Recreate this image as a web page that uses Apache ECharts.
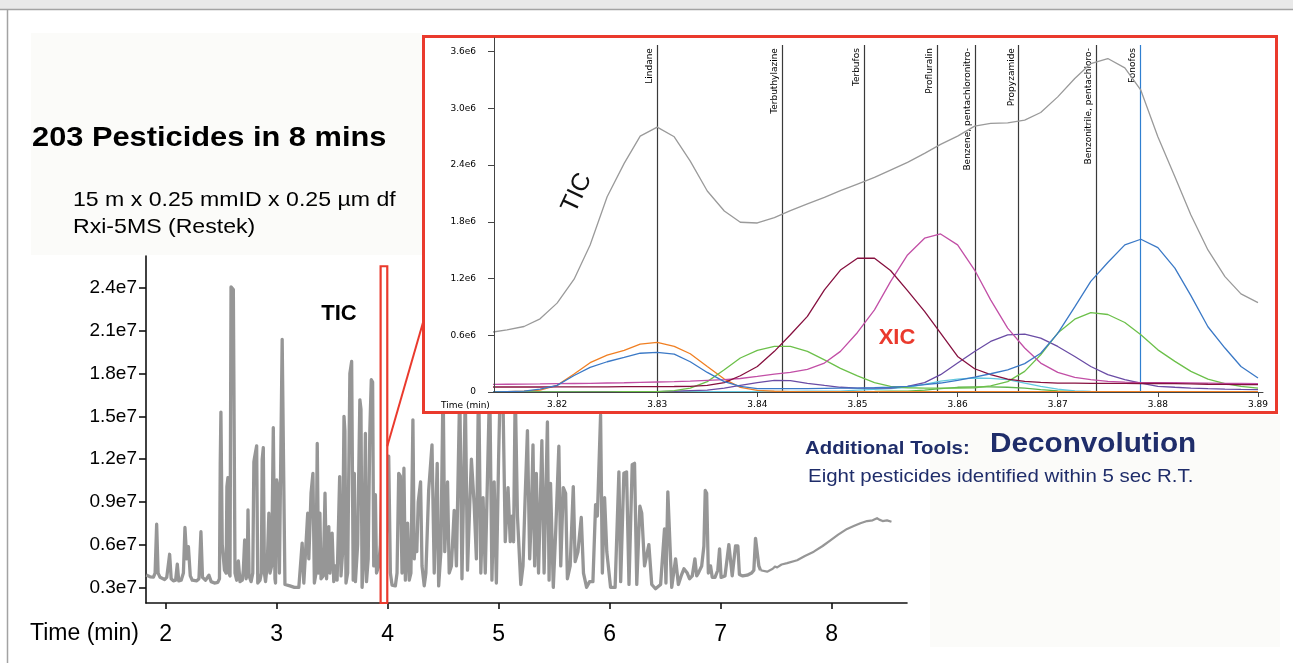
<!DOCTYPE html>
<html>
<head>
<meta charset="utf-8">
<script src="https://cdn.jsdelivr.net/npm/echarts@6/dist/echarts.min.js"></script>
<style>
html, body { margin: 0; padding: 0; background: #fff; }
#c { width: 1293px; height: 663px; }
</style>
</head>
<body>
<div id="c"></div>
<script>
// ---- Full run: total ion chromatogram, [time (min), intensity (x1e7)] ----
const runTrace = [
  [1.825,0.386],[1.86,0.374],[1.89,0.372],[1.905,0.40],[1.919,0.743],[1.932,0.40],[1.95,0.37],[1.99,0.355],
  [2.01,0.37],[2.036,0.532],[2.05,0.36],[2.07,0.345],[2.09,0.35],[2.105,0.462],[2.118,0.345],[2.14,0.35],
  [2.16,0.40],[2.174,0.72],[2.19,0.50],[2.205,0.585],[2.222,0.38],[2.24,0.35],[2.28,0.345],[2.30,0.36],
  [2.318,0.69],[2.332,0.37],[2.36,0.35],[2.375,0.36],[2.39,0.385],[2.41,0.34],[2.44,0.33],[2.47,0.335],
  [2.485,0.36],[2.492,1.17],[2.498,1.53],[2.51,0.60],[2.53,0.42],[2.545,0.40],[2.552,1.007],[2.561,1.07],
  [2.57,0.40],[2.58,0.38],[2.589,2.408],[2.61,2.39],[2.625,0.40],[2.64,0.35],[2.655,0.485],[2.67,0.34],
  [2.69,0.35],[2.70,0.42],[2.712,0.632],[2.725,0.36],[2.735,0.40],[2.742,0.843],[2.752,0.38],[2.77,0.34],
  [2.785,0.40],[2.795,1.18],[2.80,1.206],[2.82,1.293],[2.83,0.33],[2.85,0.35],[2.862,0.40],[2.87,1.20],
  [2.88,1.28],[2.89,0.40],[2.90,0.34],[2.915,0.45],[2.93,0.82],[2.94,0.40],[2.955,0.45],[2.97,1.42],
  [2.985,0.36],[2.99,0.33],[3.0,1.054],[3.012,1.00],[3.025,0.40],[3.038,0.40],[3.05,2.04],[3.062,1.20],
  [3.075,0.32],[3.09,0.31],[3.12,0.31],[3.16,0.30],[3.20,0.30],[3.216,0.30],[3.23,0.61],[3.245,0.33],
  [3.26,0.34],[3.28,0.82],[3.29,0.50],[3.31,0.96],[3.327,1.10],[3.34,0.33],[3.355,0.40],[3.366,1.31],
  [3.378,0.40],[3.39,0.82],[3.40,0.36],[3.42,0.38],[3.436,0.96],[3.45,0.36],[3.47,0.726],[3.48,0.40],
  [3.50,0.68],[3.515,0.34],[3.53,0.45],[3.545,0.35],[3.568,1.077],[3.58,0.38],[3.595,0.55],[3.607,1.50],
  [3.615,1.40],[3.625,0.33],[3.64,0.40],[3.66,1.80],[3.676,1.885],[3.69,0.35],[3.70,1.10],[3.71,0.34],
  [3.73,0.60],[3.75,1.616],[3.76,1.55],[3.77,0.30],[3.785,0.50],[3.80,1.38],[3.81,0.34],[3.825,0.50],
  [3.84,1.405],[3.853,1.757],[3.865,1.74],[3.875,0.45],[3.89,0.95],[3.90,0.40],[3.92,0.45],[3.935,0.60],
  [3.96,1.57],[3.975,0.40],[3.99,0.70],[4.01,1.22],[4.025,0.40],[4.04,0.316],[4.07,0.31],[4.085,0.40],
  [4.10,1.10],[4.115,1.08],[4.13,0.40],[4.147,1.136],[4.16,0.35],[4.18,0.75],[4.195,0.35],[4.21,0.40],
  [4.228,1.475],[4.24,0.50],[4.25,0.65],[4.263,0.55],[4.276,0.90],[4.297,1.04],[4.31,0.45],[4.33,0.31],
  [4.345,0.40],[4.37,0.98],[4.40,1.30],[4.42,0.40],[4.447,1.17],[4.46,0.31],[4.48,0.55],[4.50,1.75],
  [4.515,0.55],[4.54,1.04],[4.555,0.40],[4.575,0.45],[4.60,0.84],[4.62,0.45],[4.65,1.70],[4.67,0.36],
  [4.70,1.65],[4.72,0.42],[4.74,0.88],[4.755,1.20],[4.78,0.88],[4.80,0.50],[4.82,1.80],[4.84,0.40],
  [4.86,0.93],[4.88,0.40],[4.92,1.75],[4.94,0.35],[4.96,1.04],[4.98,0.33],[5.00,1.20],[5.02,1.90],
  [5.04,1.60],[5.06,0.62],[5.085,1.00],[5.105,0.62],[5.12,0.80],[5.135,0.62],[5.15,1.70],[5.17,0.80],
  [5.20,0.32],[5.22,0.45],[5.24,0.95],[5.26,1.40],[5.28,0.50],[5.295,0.80],[5.31,1.30],[5.325,0.45],
  [5.34,1.10],[5.36,0.40],[5.39,1.33],[5.41,0.40],[5.44,1.46],[5.455,0.35],[5.468,1.03],[5.493,0.30],
  [5.515,0.70],[5.543,1.29],[5.56,0.45],[5.583,1.00],[5.604,0.96],[5.62,0.36],[5.645,0.45],[5.673,1.007],
  [5.69,0.48],[5.715,0.55],[5.745,0.79],[5.765,0.40],[5.793,0.30],[5.82,0.34],[5.85,0.34],[5.874,0.88],
  [5.89,0.80],[5.919,1.51],[5.935,0.40],[5.955,0.93],[5.975,0.55],[6.009,0.30],[6.05,0.30],[6.084,1.11],
  [6.10,0.34],[6.129,1.10],[6.153,1.11],[6.175,0.32],[6.204,1.16],[6.225,1.17],[6.245,0.32],[6.273,0.87],
  [6.29,0.82],[6.315,0.45],[6.354,0.60],[6.38,0.32],[6.414,0.29],[6.46,0.32],[6.495,0.71],[6.508,0.33],
  [6.525,0.97],[6.543,0.96],[6.56,0.30],[6.595,0.50],[6.62,0.32],[6.645,0.38],[6.67,0.43],[6.70,0.40],
  [6.72,0.36],[6.745,0.38],[6.769,0.50],[6.785,0.38],[6.80,0.40],[6.83,0.45],[6.85,0.59],[6.862,0.98],
  [6.875,0.96],[6.89,0.40],[6.91,0.45],[6.925,0.37],[6.95,0.37],[6.975,0.42],[6.991,0.57],[7.005,0.37],
  [7.04,0.38],[7.075,0.60],[7.09,0.59],[7.105,0.38],[7.135,0.59],[7.156,0.59],[7.17,0.39],[7.20,0.38],
  [7.24,0.385],[7.28,0.40],[7.30,0.42],[7.315,0.644],[7.33,0.655],[7.345,0.45],[7.36,0.42],[7.42,0.41],
  [7.47,0.43],[7.49,0.445],[7.51,0.44],[7.55,0.46],[7.60,0.47],[7.69,0.49],[7.76,0.52],[7.84,0.55],
  [7.92,0.59],[7.99,0.63],[8.06,0.67],[8.14,0.71],[8.20,0.73],[8.26,0.75],[8.32,0.765],[8.37,0.77],
  [8.41,0.785],[8.43,0.775],[8.46,0.765],[8.50,0.77],[8.54,0.76]
];
const runTimeTicks = [2, 3, 4, 5, 6, 7, 8];
const runIntensityTicks = [0.3, 0.6, 0.9, 1.2, 1.5, 1.8, 2.1, 2.4];
// end of the elution window; the column bleed tail after it is drawn thinner
const elutionEnd = 7.36;

// ---- Zoomed window: scan times (min) and traces (x1e6) ----
const scanTime = [
  3.8133, 3.8150, 3.8167, 3.8183, 3.8200, 3.8217, 3.8233, 3.8250, 3.8267, 3.8283,
  3.8300, 3.8317, 3.8333, 3.8350, 3.8367, 3.8383, 3.8400, 3.8417, 3.8433, 3.8450,
  3.8467, 3.8483, 3.8500, 3.8517, 3.8533, 3.8550, 3.8567, 3.8583, 3.8600, 3.8617,
  3.8633, 3.8650, 3.8667, 3.8683, 3.8700, 3.8717, 3.8733, 3.8750, 3.8767, 3.8783,
  3.8800, 3.8817, 3.8833, 3.8850, 3.8867, 3.8883, 3.8900
];
const ticWindow = [
  0.63, 0.658, 0.693, 0.774, 0.94, 1.193, 1.556, 2.066, 2.419, 2.707,
  2.802, 2.70, 2.443, 2.126, 1.915, 1.796, 1.788, 1.844, 1.918, 1.99,
  2.06, 2.13, 2.20, 2.27, 2.348, 2.43, 2.524, 2.62, 2.707, 2.813,
  2.841, 2.848, 2.876, 2.957, 3.122, 3.317, 3.475, 3.528, 3.429, 3.193,
  2.70, 2.277, 1.873, 1.503, 1.221, 1.038, 0.946
];
const xicOrange = [
  0.0, 0.003, 0.008, 0.02, 0.07, 0.19, 0.31, 0.39, 0.44, 0.507,
  0.524, 0.482, 0.405, 0.27, 0.137, 0.049, 0.018, 0.008, 0.005, 0.004,
  0.004, 0.004, 0.004, 0.004, 0.004, 0.004, 0.004, 0.004, 0.004, 0.004,
  0.004, 0.004, 0.004, 0.004, 0.004, 0.004, 0.004, 0.004, 0.004, 0.004,
  0.004, 0.004, 0.004, 0.004, 0.004, 0.004, 0.004
];
const xicBlue = [
  0.0, 0.005, 0.01, 0.03, 0.07, 0.175, 0.26, 0.32, 0.366, 0.41,
  0.42, 0.40, 0.32, 0.207, 0.11, 0.06, 0.035, 0.035, 0.035, 0.035,
  0.038, 0.04, 0.042, 0.045, 0.05, 0.06, 0.077, 0.095, 0.123, 0.158,
  0.193, 0.235, 0.30, 0.41, 0.62, 0.90, 1.17, 1.37, 1.556, 1.616,
  1.527, 1.31, 1.02, 0.69, 0.465, 0.27, 0.148
];
const xicGreen = [
  0.0, 0.0, 0.0, 0.0, 0.0, 0.0, 0.002, 0.002, 0.003, 0.004,
  0.005, 0.015, 0.04, 0.11, 0.236, 0.36, 0.44, 0.482, 0.482, 0.43,
  0.34, 0.25, 0.17, 0.10, 0.06, 0.045, 0.04, 0.04, 0.04, 0.045,
  0.065, 0.11, 0.218, 0.394, 0.623, 0.77, 0.84, 0.82, 0.735, 0.605,
  0.446, 0.324, 0.218, 0.137, 0.088, 0.06, 0.04
];
const xicMaroon = [
  0.053, 0.053, 0.053, 0.053, 0.054, 0.054, 0.055, 0.055, 0.056, 0.056,
  0.057, 0.058, 0.06, 0.07, 0.10, 0.172, 0.27, 0.43, 0.605, 0.80,
  1.08, 1.29, 1.415, 1.415, 1.285, 1.073, 0.852, 0.624, 0.376, 0.246,
  0.183, 0.137, 0.112, 0.101, 0.094, 0.093, 0.092, 0.092, 0.091, 0.09,
  0.09, 0.088, 0.085, 0.082, 0.08, 0.078, 0.077
];
const xicMagenta = [
  0.081, 0.082, 0.083, 0.085, 0.088, 0.09, 0.092, 0.095, 0.098, 0.102,
  0.106, 0.11, 0.115, 0.123, 0.13, 0.143, 0.165, 0.19, 0.207, 0.24,
  0.306, 0.43, 0.63, 0.869, 1.168, 1.45, 1.627, 1.672, 1.556, 1.29,
  0.975, 0.676, 0.465, 0.306, 0.207, 0.154, 0.13, 0.112, 0.105, 0.10,
  0.10, 0.098, 0.096, 0.094, 0.092, 0.09, 0.088
];
const xicPurple = [
  0.0, 0.0, 0.0, 0.0, 0.0, 0.002, 0.003, 0.004, 0.005, 0.005,
  0.005, 0.008, 0.015, 0.02, 0.04, 0.07, 0.10, 0.123, 0.12, 0.092,
  0.07, 0.05, 0.042, 0.042, 0.042, 0.06, 0.10, 0.183, 0.306, 0.429,
  0.535, 0.605, 0.612, 0.57, 0.482, 0.376, 0.27, 0.183, 0.13, 0.095,
  0.06, 0.05, 0.042, 0.035, 0.03, 0.027, 0.025
];
const xicCyan = [
  0.0, 0.0, 0.0, 0.0, 0.0, 0.0, 0.0, 0.0, 0.0, 0.0,
  0.0, 0.0, 0.002, 0.003, 0.004, 0.005, 0.005, 0.006, 0.007, 0.008,
  0.009, 0.01, 0.02, 0.028, 0.035, 0.05, 0.08, 0.115, 0.137, 0.148,
  0.145, 0.13, 0.095, 0.06, 0.03, 0.012, 0.006, 0.004, 0.004, 0.004,
  0.004, 0.004, 0.004, 0.004, 0.004, 0.004, 0.004
];
const xicLime = [
  0.003, 0.003, 0.003, 0.003, 0.003, 0.003, 0.003, 0.003, 0.003, 0.003,
  0.003, 0.003, 0.003, 0.003, 0.003, 0.003, 0.004, 0.004, 0.004, 0.004,
  0.004, 0.004, 0.005, 0.006, 0.008, 0.01, 0.02, 0.035, 0.05, 0.055,
  0.055, 0.05, 0.04, 0.025, 0.012, 0.006, 0.004, 0.004, 0.004, 0.004,
  0.004, 0.004, 0.004, 0.004, 0.004, 0.004, 0.004
];
const windowTimeTicks = [3.82, 3.83, 3.84, 3.85, 3.86, 3.87, 3.88, 3.89];
const windowIntensityTicks = [0, 0.6, 1.2, 1.8, 2.4, 3.0, 3.6];

// Identified compounds and their retention times (min)
const compounds = ['Lindane', 'Terbuthylazine', 'Terbufos', 'Profluralin',
  'Benzene, pentachloronitro-', 'Propyzamide', 'Benzonitrile, pentachloro-', 'Fonofos'];
const compoundTime = [3.8300, 3.8425, 3.8507, 3.8580, 3.8618, 3.8661, 3.8738, 3.8782];

// ---- styling ----
const RED = '#ea3a2d';
const NAVY = '#1f2d6a';
const traceStyles = [
  { values: xicLime,    color: '#5fb54a' },
  { values: xicCyan,    color: '#62c8df' },
  { values: xicOrange,  color: '#f07f22' },
  { values: xicPurple,  color: '#6a4ca5' },
  { values: xicGreen,   color: '#6cc04a' },
  { values: xicMagenta, color: '#c24fa6' },
  { values: xicMaroon,  color: '#86103f' },
  { values: xicBlue,    color: '#3b79c6' }
];

const chart = echarts.init(document.getElementById('c'));

const tickFont = '"DejaVu Sans", sans-serif';
const markTop = 3.67;

const windowSeries = traceStyles.map(t => ({
  type: 'line', xAxisIndex: 1, yAxisIndex: 1, z: 5,
  showSymbol: false, silent: true,
  lineStyle: { color: t.color, width: 1.3 },
  data: scanTime.map((x, i) => [x, t.values[i]])
}));

windowSeries.unshift({
  type: 'line', xAxisIndex: 1, yAxisIndex: 1, z: 5,
  showSymbol: false, silent: true,
  lineStyle: { color: '#9a9a9a', width: 1.3 },
  data: scanTime.map((x, i) => [x, ticWindow[i]]),
  markLine: {
    silent: true, symbol: ['none', 'none'], animation: false,
    lineStyle: { color: '#3a3a3a', width: 1.2, type: 'solid' },
    label: {
      show: true, position: 'insideEndTop', distance: 3,
      formatter: p => p.name, color: '#000', fontSize: 9, fontFamily: tickFont
    },
    emphasis: { disabled: true },
    data: compounds.map((n, i) => [
      { name: n, coord: [compoundTime[i], 0],
        lineStyle: n === 'Fonofos' ? { color: '#2f7fd0' } : undefined },
      { coord: [compoundTime[i], markTop] }
    ])
  }
});

// the run trace is split where elution ends so the bleed tail can be thinner
const splitAt = runTrace.findIndex(p => p[0] >= elutionEnd);
const elutionPart = runTrace.slice(0, splitAt + 1);
const bleedPart = runTrace.slice(splitAt);

chart.setOption({
  animation: false,
  backgroundColor: '#ffffff',
  grid: [
    { left: 146, top: 256, right: 386, bottom: 60 },
    { left: 494, top: 38, right: 30, bottom: 271, z: 6 }
  ],
  xAxis: [
    {
      type: 'value', gridIndex: 0, min: 1.823, max: 8.68,
      axisLine: { show: true, lineStyle: { color: '#111', width: 1.6 } },
      axisTick: { show: true, length: 6, customValues: runTimeTicks, lineStyle: { color: '#111', width: 1.6 } },
      axisLabel: { customValues: runTimeTicks, fontSize: 23, color: '#000', margin: 20,
        fontFamily: '"Liberation Sans", Arial, sans-serif', formatter: v => String(v) },
      splitLine: { show: false }
    },
    {
      type: 'value', gridIndex: 1, min: 3.8137, max: 3.8905, z: 6,
      axisLine: { show: true, lineStyle: { color: '#444', width: 1 } },
      axisTick: { show: true, length: 5, customValues: windowTimeTicks, lineStyle: { color: '#444' } },
      axisLabel: { customValues: windowTimeTicks, fontSize: 9, color: '#000', margin: 8,
        fontFamily: tickFont, formatter: v => v.toFixed(2) },
      splitLine: { show: false }
    }
  ],
  yAxis: [
    {
      type: 'value', gridIndex: 0, min: 0.19, max: 2.625,
      axisLine: { show: true, lineStyle: { color: '#111', width: 1.6 } },
      axisTick: { show: true, length: 7, customValues: runIntensityTicks, lineStyle: { color: '#111', width: 1.6 } },
      axisLabel: { customValues: runIntensityTicks, fontSize: 19, color: '#000', margin: 9,
        fontFamily: '"Liberation Sans", Arial, sans-serif', formatter: v => v.toFixed(1) + 'e7' },
      splitLine: { show: false }
    },
    {
      type: 'value', gridIndex: 1, min: 0, max: 3.745, z: 6,
      axisLine: { show: true, lineStyle: { color: '#444', width: 1 } },
      axisTick: { show: true, length: 6, customValues: windowIntensityTicks, lineStyle: { color: '#444' } },
      axisLabel: { customValues: windowIntensityTicks, fontSize: 9, color: '#000', margin: 18,
        fontFamily: tickFont, formatter: v => v === 0 ? '0' : v.toFixed(1) + 'e6' },
      splitLine: { show: false }
    }
  ],
  series: [
    {
      type: 'line', xAxisIndex: 0, yAxisIndex: 0, z: 2,
      showSymbol: false, silent: true,
      lineStyle: { color: '#969696', width: 3.3, join: 'round' },
      data: elutionPart
    },
    {
      type: 'line', xAxisIndex: 0, yAxisIndex: 0, z: 2,
      showSymbol: false, silent: true,
      lineStyle: { color: '#969696', width: 2.2, join: 'round' },
      data: bleedPart
    }
  ].concat(windowSeries)
});

// zoom window marker on the full run, drawn from the run axes
const boxFrom = 3.937, boxTo = 3.997, boxTop = 2.553;
const pTL = chart.convertToPixel({ gridIndex: 0 }, [boxFrom, boxTop]);
const pBR = chart.convertToPixel({ gridIndex: 0 }, [boxTo, 0.19]);
const pLink = chart.convertToPixel({ gridIndex: 0 }, [boxTo, 1.29]);

function txt(x, y, text, font, fill, opts) {
  return Object.assign({
    type: 'text', x: x, y: y, z: 20, silent: true,
    style: { text: text, font: font, fill: fill, align: 'left', verticalAlign: 'middle',
             textAlign: 'left', textVerticalAlign: 'middle' }
  }, opts || {});
}

chart.setOption({
  graphic: {
    elements: [
      // slide chrome
      { type: 'rect', z: 0, silent: true, shape: { x: 0, y: 0, width: 1293, height: 9 }, style: { fill: '#e9e9e9' } },
      { type: 'line', z: 0, silent: true, shape: { x1: 0, y1: 9.5, x2: 1293, y2: 9.5 }, style: { stroke: '#a3a3a3', lineWidth: 1.5 } },
      { type: 'line', z: 0, silent: true, shape: { x1: 7.5, y1: 9, x2: 7.5, y2: 663 }, style: { stroke: '#a3a3a3', lineWidth: 1.5 } },
      { type: 'rect', z: 0, silent: true, shape: { x: 31, y: 33, width: 392, height: 222 }, style: { fill: '#fbfbf9' } },
      { type: 'rect', z: 0, silent: true, shape: { x: 930, y: 415, width: 350, height: 232 }, style: { fill: '#fbfbf9' } },
      // zoom window marker and link
      { type: 'rect', z: 3, silent: true,
        shape: { x: pTL[0], y: pTL[1], width: pBR[0] - pTL[0], height: pBR[1] - pTL[1] },
        style: { fill: '#ffffff', stroke: RED, lineWidth: 2.2 } },
      { type: 'line', z: 3, silent: true,
        shape: { x1: pLink[0], y1: pLink[1], x2: 424, y2: 319 },
        style: { stroke: RED, lineWidth: 2 } },
      // inset frame
      { type: 'rect', z: 4, silent: true, shape: { x: 423.5, y: 36.5, width: 853, height: 376 },
        style: { fill: '#ffffff', stroke: RED, lineWidth: 3 } },
      // texts
      txt(32, 138, '203 Pesticides in 8 mins', 'bold 28px "Liberation Sans", Arial, sans-serif', '#000', { scaleX: 1.1 }),
      txt(73, 200, '15 m x 0.25 mmID x 0.25 \u00b5m df', '21px "Liberation Sans", Arial, sans-serif', '#000', { scaleX: 1.1 }),
      txt(73, 227.5, 'Rxi-5MS (Restek)', '21px "Liberation Sans", Arial, sans-serif', '#000', { scaleX: 1.1 }),
      { type: 'text', x: 339, y: 314, z: 20, silent: true,
        style: { text: 'TIC', font: 'bold 22px "Liberation Sans", Arial, sans-serif', fill: '#000',
                 align: 'center', verticalAlign: 'middle', textAlign: 'center', textVerticalAlign: 'middle' } },
      txt(30, 634, 'Time (min)', '23px "Liberation Sans", Arial, sans-serif', '#000'),
      txt(441, 406, 'Time (min)', '9px "DejaVu Sans", sans-serif', '#000'),
      { type: 'text', x: 577, y: 193, z: 20, silent: true, rotation: Math.PI * 0.36,
        style: { text: 'TIC', font: '25px "Liberation Sans", Arial, sans-serif', fill: '#111',
                 align: 'center', verticalAlign: 'middle', textAlign: 'center', textVerticalAlign: 'middle' } },
      { type: 'text', x: 897, y: 338, z: 20, silent: true,
        style: { text: 'XIC', font: 'bold 22px "Liberation Sans", Arial, sans-serif', fill: RED,
                 align: 'center', verticalAlign: 'middle', textAlign: 'center', textVerticalAlign: 'middle' } },
      txt(805, 448.5, 'Additional Tools:', 'bold 18.5px "Liberation Sans", Arial, sans-serif', NAVY, { scaleX: 1.1 }),
      txt(990, 445, 'Deconvolution', 'bold 27px "Liberation Sans", Arial, sans-serif', NAVY, { scaleX: 1.1 }),
      txt(808, 477, 'Eight pesticides identified within 5 sec R.T.', '18.6px "Liberation Sans", Arial, sans-serif', NAVY, { scaleX: 1.1 })
    ]
  }
});
</script>
</body>
</html>
